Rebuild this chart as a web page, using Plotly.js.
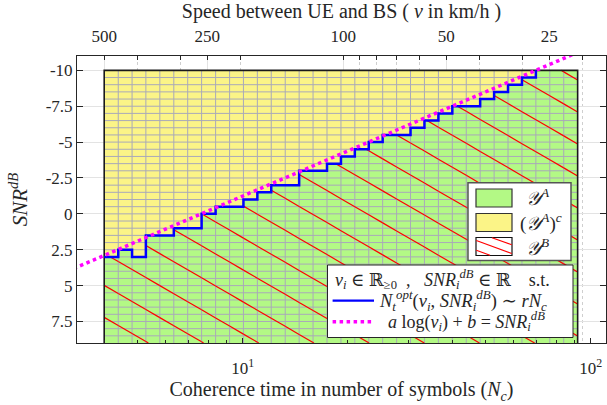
<!DOCTYPE html>
<html><head><meta charset="utf-8">
<script src="https://cdn.plot.ly/plotly-3.0.1.min.js"></script>
<style>html,body{margin:0;padding:0;background:#fff;}#chart{width:607px;height:405px;}</style>
</head><body><div id="chart"></div>
<script>
// ---------------- data ----------------
// column edges of the (N_c, SNR) evaluation mesh, in N_c
const colEdgesNc = [4.00, 4.39, 4.81, 5.27, 5.78, 6.34, 6.95, 7.62, 8.36, 9.17, 10.05, 11.02, 12.08, 13.25, 14.53, 15.93, 17.47, 19.16, 21.00, 23.03, 25.25, 27.69, 30.36, 33.29, 36.51, 40.03, 43.90, 48.13, 52.78, 57.87, 63.46, 69.58, 76.29, 83.66, 91.73];
// row edges of the mesh, in SNR dB
const rowEdgesSNR = [-10, -9.5, -9, -8.5, -8, -7.5, -7, -6.5, -6, -5.5, -5, -4.5, -4, -3.5, -3, -2.5, -2, -1.5, -1, -0.5, 0, 0.5, 1, 1.5, 2, 2.5, 3, 3.5, 4, 4.5, 5, 5.5, 6, 6.5, 7, 7.5, 8, 8.5, 9];
// lowest SNR (top of Y^A) in every mesh column
const boundarySNR = [3.0, 2.5, 3.0, 1.5, 1.5, 1.0, 1.0, 0.0, -0.5, -0.5, -1.0, -1.5, -2.0, -2.0, -3.0, -3.0, -3.5, -4.0, -4.5, -5.0, -5.5, -5.5, -6.0, -6.5, -7.0, -7.5, -7.5, -8.0, -8.5, -9.0, -9.5, -10, -10, -10];
// fitted line a log(v)+b = SNR (end points)
const fitNc = [3.0, 100];
const fitSNR = [4.2, -11.64];
// axes ticks
const ncTickVals = [10, 100];
const ncTickText = ['10<sup>1</sup>', '10<sup>2</sup>'];
const ncMinorVals = [4, 5, 6, 7, 8, 9, 20, 30, 40, 50, 60, 70, 80, 90];
const speedTickVals = [500, 250, 100, 50, 25];
const speedTickText = ['500', '250', '100', '50', '25'];
const speedMinorVals = [400, 300, 200, 90, 80, 70, 60, 40, 30, 20];
const snrTickVals = [-10, -7.5, -5, -2.5, 0, 2.5, 5, 7.5];
const snrTickText = ['-10', '-7.5', '-5', '-2.5', '0', '2.5', '5', '7.5'];

// ---------------- geometry / style ----------------
const W = 607, H = 405;
const M = {l: 77, r: 1, t: 56, b: 62, pad: 0};
const plotW = W - M.l - M.r, plotH = H - M.t - M.b;
const xRange = [0.5239, 2.044];
const x2Range = [2.7788, 1.232];
const yRange = [9, -11];
const YELLOW = '#fbf487', GREEN = '#b3f985', MESH = '#a9a9b9';
const SERIF = 'Liberation Serif, DejaVu Serif, serif';
const INK = '#262626';

// ---------------- derived traces ----------------
const nCol = boundarySNR.length, nRow = rowEdgesSNR.length - 1;
const z = [];
for (let r = 0; r < nRow; r++) {
  const row = [];
  for (let c = 0; c < nCol; c++) row.push(rowEdgesSNR[r] >= boundarySNR[c] - 1e-9 ? 1 : 0);
  z.push(row);
}
const sTop = rowEdgesSNR[0], sBot = rowEdgesSNR[nRow];
const eFirst = colEdgesNc[0], eLast = colEdgesNc[nCol];

// mesh lines
const meshX = [], meshY = [];
for (let c = 1; c < nCol; c++) { meshX.push(colEdgesNc[c], colEdgesNc[c], null); meshY.push(sTop, sBot, null); }
for (let r = 1; r < nRow; r++) { meshX.push(eFirst, eLast, null); meshY.push(rowEdgesSNR[r], rowEdgesSNR[r], null); }

// staircase N_t^opt
const lastCol = boundarySNR.findIndex(v => v <= sTop);
const stairX = [], stairY = [];
for (let c = 0; c < lastCol; c++) { stairX.push(colEdgesNc[c], colEdgesNc[c + 1]); stairY.push(boundarySNR[c], boundarySNR[c]); }
stairX.push(colEdgesNc[lastCol]); stairY.push(boundarySNR[lastCol]);

// hatching of Y^B (clipped to the region below the staircase)
const Dx = plotW / (xRange[1] - xRange[0]);
const Dy = plotH / (yRange[0] - yRange[1]);
const hatchSlopePx = 0.58, hatchSpacePx = 32;
const m = hatchSlopePx * Dx / Dy, dc = hatchSpacePx / Dy;
const c0 = 0.0 - m * Math.log10(colEdgesNc[7]);
const hatchX = [], hatchY = [];
for (let n = -60; n <= 60; n++) {
  const cc = c0 + n * dc;
  for (let j = 0; j < nCol; j++) {
    const u0 = Math.log10(colEdgesNc[j]), u1 = Math.log10(colEdgesNc[j + 1]);
    const ua = (boundarySNR[j] - cc) / m, ub = (sBot - cc) / m;
    const lo = Math.max(u0, ua), hi = Math.min(u1, ub);
    if (hi > lo + 1e-9) {
      hatchX.push(Math.pow(10, lo), Math.pow(10, hi), null);
      hatchY.push(m * lo + cc, m * hi + cc, null);
    }
  }
}

const data = [
  {type: 'heatmap', x: colEdgesNc, y: rowEdgesSNR, z: z, zmin: 0, zmax: 1,
   colorscale: [[0, YELLOW], [1, GREEN]], showscale: false, hoverinfo: 'skip'},
  {type: 'scatter', mode: 'lines', x: meshX, y: meshY, line: {color: MESH, width: 1}, hoverinfo: 'skip', showlegend: false},
  {type: 'scatter', mode: 'lines', x: hatchX, y: hatchY, line: {color: '#ff0000', width: 1.2}, hoverinfo: 'skip', showlegend: false},
  {type: 'scatter', mode: 'lines', x: [eFirst, eFirst, eLast, eLast], y: [sBot, sTop, sTop, sBot],
   line: {color: '#1a1a1a', width: 1.6}, hoverinfo: 'skip', showlegend: false},
  {type: 'scatter', mode: 'lines', x: stairX, y: stairY, line: {color: '#0000ff', width: 2.5}, name: 'N_t^opt', showlegend: false},
  {type: 'scatter', mode: 'lines', x: fitNc, y: fitSNR, line: {color: '#ff00ff', width: 3.5, dash: 'dot'}, name: 'fit', showlegend: false},
  // carrier of the top (speed) axis, draws nothing
  {type: 'scatter', mode: 'none', x: speedTickVals, y: speedTickVals.map(() => sTop), xaxis: 'x2', yaxis: 'y', hoverinfo: 'skip', showlegend: false}
];

// ---------------- manual legends ----------------
const fx = px => (px - M.l) / plotW;
const fy = py => (H - M.b - py) / plotH;
const shapes = [], ann = [];
function rect(x0, y0, x1, y1, fill, lc, lw) {
  shapes.push({type: 'rect', xref: 'paper', yref: 'paper', x0: fx(x0), x1: fx(x1), y0: fy(y1), y1: fy(y0),
    fillcolor: fill, line: {color: lc, width: lw}, layer: 'above'});
}
function seg(x0, y0, x1, y1, col, lw, dash) {
  shapes.push({type: 'line', xref: 'paper', yref: 'paper', x0: fx(x0), x1: fx(x1), y0: fy(y0), y1: fy(y1),
    line: {color: col, width: lw, dash: dash || 'solid'}, layer: 'above'});
}
function txt(x, y, t, size) {
  ann.push({xref: 'paper', yref: 'paper', x: fx(x), y: fy(y), xanchor: 'left', yanchor: 'middle',
    text: t, showarrow: false, font: {family: SERIF, size: size || 17, color: INK}});
}
// legend 1
rect(468, 182.7, 571, 260.5, '#ffffff', '#555555', 1.5);
rect(476, 189, 512, 207, GREEN, '#333333', 1.2);
rect(476, 213.5, 512, 231.5, YELLOW, '#333333', 1.2);
rect(476, 237.5, 512, 255.5, '#ffffff', '#111111', 1.2);
seg(492, 237.8, 511.7, 244.8, '#ff0000', 1.2);
seg(476.3, 240.5, 511.7, 253.5, '#ff0000', 1.2);
seg(476.3, 250.2, 490, 255.2, '#ff0000', 1.2);
txt(524, 197.5, '<i>𝒴</i><sup><i>A</i></sup>', 19);
txt(518, 222.5, '(<i>𝒴</i><sup><i>A</i></sup>)<sup><i>c</i></sup>', 19);
txt(524, 246.5, '<i>𝒴</i><sup><i>B</i></sup>', 19);
// legend 2
rect(327.5, 265, 573, 337.5, '#ffffff', INK, 1);
txt(333, 279, '<i>v<sub>i</sub></i> ∈ ℝ<sub>≥0</sub> &nbsp;, &nbsp;&nbsp;<i>SNR<sub>i</sub><sup>dB</sup></i> ∈ ℝ &nbsp;&nbsp; s.t.', 18);
seg(332.6, 300.7, 374, 300.7, '#0000ff', 2.2);
txt(377, 300.7, '<i>N<sub>t</sub><sup>opt</sup></i>(<i>v<sub>i</sub></i>, <i>SNR<sub>i</sub><sup>dB</sup></i>) ∼ <i>rN<sub>c</sub></i>', 18.5);
seg(332.6, 321.7, 374, 321.7, '#ff00ff', 3.5, 'dot');
txt(386, 321.7, '<i>a</i> log(<i>v<sub>i</sub></i>) + <i>b</i> = <i>SNR<sub>i</sub><sup>dB</sup></i>', 18);

const layout = {
  width: W, height: H, margin: M, paper_bgcolor: '#fff', plot_bgcolor: '#fff', showlegend: false,
  font: {family: SERIF, size: 16, color: INK},
  xaxis: {type: 'log', range: xRange, tickvals: ncTickVals, ticktext: ncTickText,
    ticks: 'inside', ticklen: 5, tickcolor: INK, showline: true, linecolor: INK, linewidth: 1,
    showgrid: false, zeroline: false, tickfont: {family: SERIF, size: 17, color: INK}, ticklabelstandoff: 10,
    minor: {tickvals: ncMinorVals, ticks: 'inside', ticklen: 3, tickcolor: INK, showgrid: false},
    title: {text: 'Coherence time in number of symbols (<i>N<sub>c</sub></i>)', font: {family: SERIF, size: 20, color: INK}, standoff: 4}},
  xaxis2: {type: 'log', range: x2Range, overlaying: 'x', side: 'top', anchor: 'y',
    tickvals: speedTickVals, ticktext: speedTickText, ticks: 'inside', ticklen: 4, tickcolor: INK,
    showline: true, linecolor: INK, linewidth: 1, showgrid: true, gridcolor: '#e3e3e3', gridwidth: 1, zeroline: false,
    tickfont: {family: SERIF, size: 17, color: INK}, ticklabelstandoff: 6,
    minor: {tickvals: speedMinorVals, ticks: 'inside', ticklen: 4, tickcolor: INK, showgrid: true, gridcolor: '#cfcfcf', griddash: 'dot', gridwidth: 1},
    title: {text: 'Speed between UE and BS ( <i>v</i> in km/h )', font: {family: SERIF, size: 20, color: INK}, standoff: 4}},
  yaxis: {range: yRange, tickvals: snrTickVals, ticktext: snrTickText, ticks: 'inside', ticklen: 6, tickcolor: INK,
    showline: true, mirror: 'ticks', linecolor: INK, linewidth: 1, showgrid: true, gridcolor: '#e3e3e3', zeroline: false,
    tickfont: {family: SERIF, size: 17, color: INK},
    title: {text: '<i>SNR<sup>dB</sup></i>', font: {family: SERIF, size: 21, color: INK}, standoff: 12}},
  shapes: shapes, annotations: ann
};
Plotly.newPlot('chart', data, layout, {staticPlot: true, displayModeBar: false});
</script></body></html>
